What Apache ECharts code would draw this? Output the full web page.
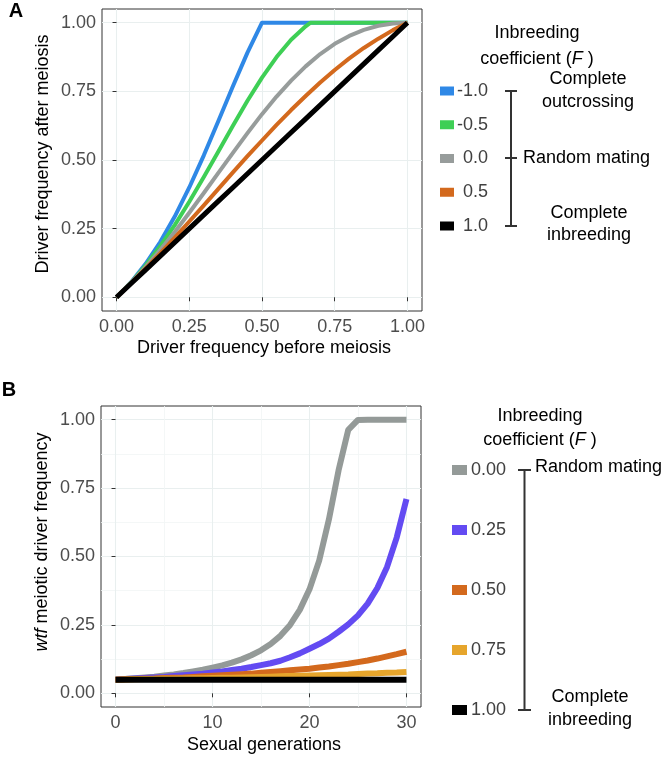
<!DOCTYPE html>
<html>
<head>
<meta charset="utf-8">
<script src="https://cdn.jsdelivr.net/npm/echarts@6/dist/echarts.min.js"></script>
<style>
html,body{margin:0;padding:0;background:#fff;}
#chart{width:668px;height:757px;}
</style>
</head>
<body>
<div id="chart"></div>
<script>
// ---------- Panel A data ----------
const pA = [0,0.05,0.1,0.15,0.2,0.25,0.3,0.35,0.4,0.45,0.5,0.55,0.6,0.65,0.7,0.75,0.8,0.85,0.9,0.95,1];
const pGreen = [0,0.05,0.1,0.15,0.2,0.25,0.3,0.35,0.4,0.45,0.5,0.55,0.6,0.65,0.667,0.7,0.75,0.8,0.85,0.9,0.95,1];
const fMinus1 = [0,0.055,0.122,0.201,0.294,0.400,0.517,0.642,0.769,0.891,1,1,1,1,1,1,1,1,1,1,1];
const fMinus05 = [0,0.054,0.116,0.186,0.263,0.348,0.438,0.531,0.625,0.716,0.800,0.875,0.938,0.987,1,1,1,1,1,1,1,1];
const f0 = [0,0.053,0.110,0.172,0.238,0.308,0.380,0.453,0.526,0.598,0.667,0.731,0.789,0.841,0.886,0.923,0.952,0.974,0.989,0.997,1];
const f05 = [0,0.051,0.105,0.160,0.217,0.276,0.335,0.395,0.455,0.514,0.571,0.628,0.682,0.733,0.782,0.828,0.870,0.908,0.942,0.973,1];
const f1 = [0,0.05,0.1,0.15,0.2,0.25,0.3,0.35,0.4,0.45,0.5,0.55,0.6,0.65,0.7,0.75,0.8,0.85,0.9,0.95,1];
const legendA = ['-1.0','-0.5','0.0','0.5','1.0'];
const ticksA = [0,0.25,0.5,0.75,1];

// ---------- Panel B data ----------
const gens = [0,1,2,3,4,5,6,7,8,9,10,11,12,13,14,15,16,17,18,19,20,21,22,23,24,25,26,27,28,29,30];
const g000 = [0.050,0.052,0.055,0.058,0.061,0.065,0.069,0.074,0.080,0.086,0.094,0.102,0.112,0.124,0.139,0.157,0.180,0.210,0.250,0.305,0.380,0.485,0.635,0.815,0.963,0.999,1,1,1,1,1];
const g025 = [0.050,0.052,0.054,0.056,0.058,0.060,0.063,0.066,0.069,0.072,0.076,0.080,0.085,0.090,0.096,0.103,0.110,0.119,0.132,0.146,0.163,0.180,0.200,0.225,0.252,0.285,0.328,0.385,0.462,0.570,0.710];
const g050 = [0.050,0.051,0.052,0.053,0.054,0.056,0.057,0.058,0.060,0.062,0.064,0.066,0.068,0.070,0.072,0.075,0.078,0.081,0.084,0.087,0.090,0.094,0.098,0.103,0.108,0.114,0.120,0.127,0.135,0.143,0.152];
const g075 = [0.050,0.0505,0.051,0.052,0.052,0.053,0.053,0.054,0.055,0.055,0.056,0.057,0.057,0.058,0.059,0.060,0.061,0.062,0.063,0.064,0.065,0.066,0.067,0.068,0.069,0.071,0.072,0.073,0.075,0.076,0.078];
const g100 = [0.05,0.05,0.05,0.05,0.05,0.05,0.05,0.05,0.05,0.05,0.05,0.05,0.05,0.05,0.05,0.05,0.05,0.05,0.05,0.05,0.05,0.05,0.05,0.05,0.05,0.05,0.05,0.05,0.05,0.05,0.05];
const legendB = ['0.00','0.25','0.50','0.75','1.00'];
const ticksBx = [0,10,20,30];
const minorBx = [5,15,25];
const ticksBy = [0,0.25,0.5,0.75,1];
const minorBy = [0.125,0.375,0.625,0.875];

const colorsA = ['#2F88E6','#3ECF55','#979C9B','#D3691D','#000000'];
const colorsB = ['#949A98','#634BF2','#D3691D','#E6A52C','#000000'];

const FONT = "'Liberation Sans', Arial, Helvetica, sans-serif";
const gridColor = '#E9EFEF';
const tickColor = '#4D4D4D';

function zip(xs, ys){ return xs.map((x,i)=>[x, ys[i]]); }

function valAxis(grid, min, max, ticks, fmt, isX){
  return {
    type:'value', gridIndex:grid, min:min, max:max,
    axisLine:{show:false},
    axisTick:{show:true, customValues:ticks, length:4, lineStyle:{color:'#333', width:1}},
    axisLabel:{customValues:ticks, formatter:fmt, color:tickColor, fontSize:18, fontFamily:FONT, margin: isX ? 7 : 6},
    splitLine:{show:true, lineStyle:{color:gridColor, width:1.1}}
  };
}
function minorAxis(grid, min, max, ticks, pos){
  return {
    type:'value', gridIndex:grid, min:min, max:max, position:pos,
    axisLine:{show:false},
    axisTick:{show:false, customValues:ticks},
    axisLabel:{show:false, customValues:ticks},
    splitLine:{show:true, lineStyle:{color:'#F1F5F5', width:0.8}}
  };
}

const seriesA = [
  {x:pA, y:fMinus1}, {x:pGreen, y:fMinus05}, {x:pA, y:f0}, {x:pA, y:f05}, {x:pA, y:f1}
].map((s,i)=>({
  type:'line', xAxisIndex:0, yAxisIndex:0, data:zip(s.x, s.y), showSymbol:false, silent:true,
  lineStyle:{color:colorsA[i], width: i===4 ? 5 : 4, join:'round'}, z: 3+i
}));
const seriesB = [g000, g025, g050, g075, g100].map((ys,i)=>({
  type:'line', xAxisIndex:1, yAxisIndex:1, data:zip(gens, ys), showSymbol:false, silent:true,
  lineStyle:{color:colorsB[i], width:6, join:'round'}, z: 3+i
}));

function txt(x, y, text, opts){
  opts = opts || {};
  return {
    type:'text', x:x, y:y, rotation: opts.rotation || 0, silent:true, z:100,
    style:{
      text:text, x:0, y:0,
      font: (opts.bold ? 'bold ' : '') + (opts.size || 18) + 'px ' + FONT,
      fill: opts.color || '#000',
      align: opts.align || 'center', verticalAlign:'middle',
      textAlign: opts.align || 'center', textVerticalAlign:'middle',
      rich: {i:{fontStyle:'italic', fontSize: opts.size || 18, fontFamily:FONT, fill: opts.color || '#000'}}
    }
  };
}
function rect(x, y, w, h, color){
  return {type:'rect', silent:true, z:100, shape:{x:x, y:y, width:w, height:h}, style:{fill:color}};
}
function seg(x1,y1,x2,y2){
  return {type:'line', silent:true, z:100, shape:{x1:x1,y1:y1,x2:x2,y2:y2}, style:{stroke:'#333', lineWidth:2}};
}

const graphics = [];
// panel letters
graphics.push(txt(16, 11, 'A', {bold:true, size:20}));
graphics.push(txt(9, 390, 'B', {bold:true, size:20}));
// axis titles
graphics.push(txt(43, 154, 'Driver frequency after meiosis', {rotation:Math.PI/2}));
graphics.push(txt(264, 348, 'Driver frequency before meiosis'));
graphics.push(txt(42, 542, '{i|wtf} meiotic driver frequency', {rotation:Math.PI/2}));
graphics.push(txt(264, 745, 'Sexual generations'));

// legend A
graphics.push(txt(537, 33, 'Inbreeding'));
graphics.push(txt(537, 59, 'coefficient ({i|F} )'));
legendA.forEach((lab,i)=>{
  const yc = 91 + i*33.75;
  graphics.push(rect(440, yc-4.5, 14, 9, colorsA[i]));
  graphics.push(txt(488, yc, lab, {align:'right', color:'#404040'}));
});
graphics.push(seg(511, 91, 511, 226));
graphics.push(seg(505, 91, 517, 91));
graphics.push(seg(505, 158, 517, 158));
graphics.push(seg(505, 226, 517, 226));
graphics.push(txt(588, 79, 'Complete'));
graphics.push(txt(588, 102, 'outcrossing'));
graphics.push(txt(523, 158, 'Random mating', {align:'left'}));
graphics.push(txt(589, 213, 'Complete'));
graphics.push(txt(589, 235, 'inbreeding'));

// legend B
graphics.push(txt(540, 416, 'Inbreeding'));
graphics.push(txt(540, 440, 'coefficient ({i|F} )'));
legendB.forEach((lab,i)=>{
  const yc = 470 + i*60;
  graphics.push(rect(452, yc-5, 15, 10, colorsB[i]));
  graphics.push(txt(471, yc, lab, {align:'left', color:'#404040'}));
});
graphics.push(seg(524.5, 470, 524.5, 710));
graphics.push(seg(518, 470, 531, 470));
graphics.push(seg(518, 710, 531, 710));
graphics.push(txt(535, 467, 'Random mating', {align:'left'}));
graphics.push(txt(590, 697, 'Complete'));
graphics.push(txt(590, 720, 'inbreeding'));

const chart = echarts.init(document.getElementById('chart'), null, {renderer:'canvas'});
chart.setOption({
  animation:false,
  backgroundColor:'#fff',
  grid:[
    {left:102, top:9, width:320, height:302, show:true, borderColor:'#333', borderWidth:1, backgroundColor:'transparent', containLabel:false},
    {left:101, top:406, width:320, height:301, show:true, borderColor:'#333', borderWidth:1, backgroundColor:'transparent', containLabel:false}
  ],
  xAxis:[
    valAxis(0, -0.05, 1.05, ticksA, v=>v.toFixed(2), true),
    valAxis(1, -1.5, 31.5, ticksBx, v=>String(v), true),
    minorAxis(1, -1.5, 31.5, minorBx, 'top')
  ],
  yAxis:[
    valAxis(0, -0.05, 1.05, ticksA, v=>v.toFixed(2), false),
    valAxis(1, -0.05, 1.05, ticksBy, v=>v.toFixed(2), false),
    minorAxis(1, -0.05, 1.05, minorBy, 'right')
  ],
  series: seriesA.concat(seriesB),
  graphic: graphics
});
</script>
</body>
</html>
